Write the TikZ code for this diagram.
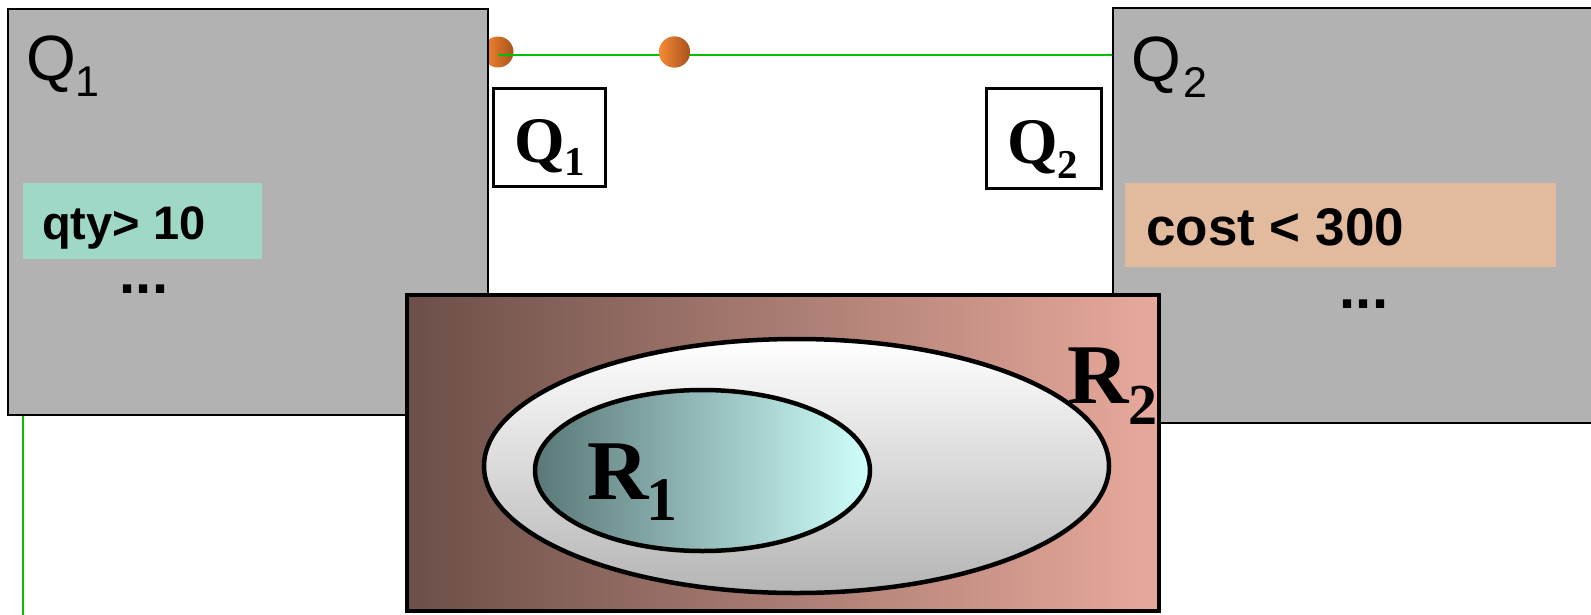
\documentclass[tikz,border=0pt]{standalone}
\usepackage{fontspec}
\setmainfont{Liberation Serif}
\setsansfont{Liberation Sans}
\usetikzlibrary{shapes.geometric}
\definecolor{boxgray}{HTML}{B2B2B2}
\definecolor{qtyfill}{HTML}{9FD8C7}
\definecolor{costfill}{HTML}{E2BA9E}
\definecolor{brownL}{HTML}{6B4F48}
\definecolor{brownR}{HTML}{E8A99C}
\definecolor{lineGreen}{HTML}{00C000}
\definecolor{cyanL}{HTML}{5A7878}
\definecolor{cyanR}{HTML}{CFFFFB}
\definecolor{ellBot}{HTML}{B5B5B5}
\definecolor{orangeL}{HTML}{F78A35}
\definecolor{orangeR}{HTML}{A8521C}
\tikzset{
  graybox/.style={draw=black,line width=1.8pt,fill=boxgray,inner sep=0pt,anchor=north west},
  condbox/.style={inner sep=0pt,anchor=north west},
  qbox/.style={draw=black,line width=3.5pt,fill=white,inner sep=0pt},
  dotball/.style={circle,inner sep=0pt,minimum size=31pt,left color=orangeL,right color=orangeR},
  greenline/.style={draw=lineGreen,line width=2pt},
  biglab/.style={anchor=base west,inner sep=0pt,font=\sffamily\fontsize{64}{64}\selectfont},
  condlab/.style={anchor=base west,inner sep=0pt,font=\sffamily\bfseries},
  serlab/.style={anchor=base west,inner sep=0pt,font=\rmfamily\bfseries},
}
\begin{document}
\begin{tikzpicture}[x=1pt,y=-1pt]
\useasboundingbox (0,0) rectangle (1591,614);
\clip (0,0) rectangle (1591,614);
% dots and green line
\node[dotball] (dot1) at (498,52) {};
\node[dotball] (dot2) at (674.5,52) {};
\coordinate (gbot) at (23,620);
% gray boxes
\node[graybox,minimum width=480pt,minimum height=406pt] (q1box) at (7,8) {};
\node[graybox,minimum width=500pt,minimum height=415pt] (q2box) at (1112,7) {};
\draw[greenline] ([yshift=-3pt]dot1.center) -- ([yshift=-3pt]dot2.center) -- ([yshift=-3pt]q2box.west |- dot2.center);
\node[dotball] at (dot2.center) {};
\draw[greenline] (q1box.south -| gbot) -- (gbot);
% big labels
\node[biglab] (q1lab) at (26,80) {Q\raisebox{-16pt}{\fontsize{43}{43}\selectfont 1}};
\node[biglab] (q2lab) at (1131,81) {Q\kern3pt\raisebox{-16pt}{\fontsize{43}{43}\selectfont 2}};
% condition boxes
\node[condbox,fill=qtyfill,minimum width=239pt,minimum height=76pt] (qtybox) at (23,183) {};
\node[condbox,fill=costfill,minimum width=431pt,minimum height=84pt] (costbox) at (1125,183) {};
\node[condlab,font=\sffamily\bfseries\fontsize{47}{47}\selectfont] (qtytxt) at (42,239) {qty> 10};
\node[condlab,font=\sffamily\bfseries\fontsize{53}{53}\selectfont] (costtxt) at (1146,245) {cost < 300};
\node[anchor=base,inner sep=0pt,font=\sffamily\bfseries\fontsize{58}{58}\selectfont] (dots1) at (144,293) {...};
\node[anchor=base,inner sep=0pt,font=\sffamily\bfseries\fontsize{58}{58}\selectfont] (dots2) at (1364,308) {...};
% white Q boxes
\node[qbox,minimum width=112pt,minimum height=98pt] (wq1) at (549.5,137.5) {};
\node[qbox,minimum width=115pt,minimum height=100pt] (wq2) at (1044,138.5) {};
\node[serlab,font=\rmfamily\bfseries\fontsize{65}{65}\selectfont] (wq1t) at (514,162) {Q\raisebox{-13pt}{\fontsize{41}{41}\selectfont 1}};
\node[serlab,font=\rmfamily\bfseries\fontsize{65}{65}\selectfont] (wq2t) at (1007,163) {Q\raisebox{-15pt}{\fontsize{41}{41}\selectfont 2}};
% brown region
\node[draw=black,line width=4.5pt,inner sep=0pt,minimum width=752pt,minimum height=316pt,left color=brownL,right color=brownR] (brown) at (783,453) {};
\node[ellipse,draw=black,line width=4.5pt,inner sep=0pt,minimum width=625pt,minimum height=254pt,top color=white,bottom color=ellBot] (r2ell) at (796.5,466) {};
\node[ellipse,draw=black,line width=4.5pt,inner sep=0pt,minimum width=335pt,minimum height=161pt,left color=cyanL,right color=cyanR] (r1ell) at (702.5,470.5) {};
\node[serlab,font=\rmfamily\bfseries\fontsize{85}{85}\selectfont] (r1lab) at (587,499) {R\kern-2pt\raisebox{-21pt}{\fontsize{62}{62}\selectfont 1}};
\node[serlab,font=\rmfamily\bfseries\fontsize{85}{85}\selectfont] (r2lab) at (1067,403) {R\raisebox{-21pt}{\fontsize{58}{58}\selectfont 2}};
\end{tikzpicture}
\end{document}
